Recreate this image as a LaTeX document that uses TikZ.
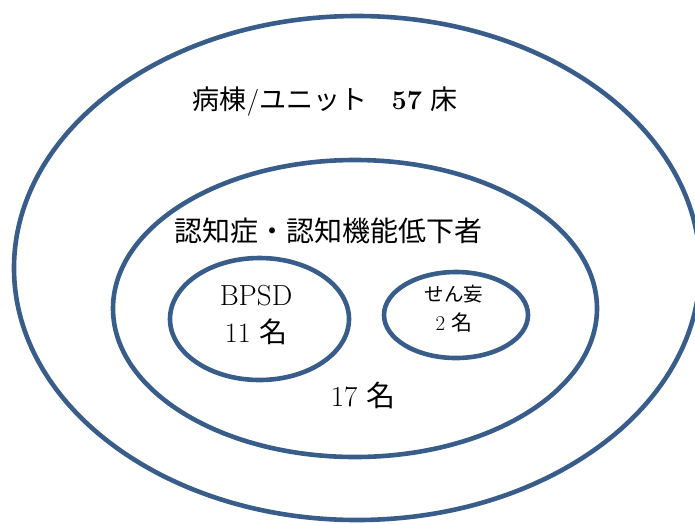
\documentclass[tikz,border=0pt]{standalone}
\usepackage{fontspec}
\usetikzlibrary{shapes.geometric}
\newfontfamily\jp{Noto Sans CJK JP}
\definecolor{ringblue}{RGB}{56,93,138}
\tikzset{
  ring/.style={draw=ringblue, line width=4.6pt, ellipse, inner sep=0pt, fill=none},
  lbl/.style={inner sep=0pt, text=black, align=center},
}
\begin{document}
\begin{tikzpicture}[x=1pt,y=-1pt]
\useasboundingbox (0,0) rectangle (695,523);
\node[ring, minimum width=686pt, minimum height=504pt] (outer) at (357,268) {};
\node[ring, minimum width=484pt, minimum height=297pt] (middle) at (355,308.5) {};
\node[ring, minimum width=179pt, minimum height=122pt] (bpsd) at (259.5,319) {};
\node[ring, minimum width=144pt, minimum height=86pt] (delir) at (456,315) {};
\node[lbl, font=\fontsize{27pt}{31pt}\selectfont] (ward) at (325,102) {{\jp 病棟}/{\jp ユニット}\hspace{0.9em}\textbf{57} {\jp 床}};
\node[lbl, font=\fontsize{28pt}{32pt}\selectfont] (dem) at (328,231) {{\jp 認知症・認知機能低下者}};
\node[lbl, font=\fontsize{29pt}{33pt}\selectfont] (bpsdt) at (256,296) {BPSD};
\node[lbl, font=\fontsize{28pt}{33pt}\selectfont] (bpsdn) at (256,332) {11 {\jp 名}};
\node[lbl, font=\fontsize{19.5pt}{23pt}\selectfont] (delirt) at (454,294) {{\jp せん妄}};
\node[lbl, font=\fontsize{21pt}{25pt}\selectfont] (delirn) at (454,322) {2 {\jp 名}};
\node[lbl, font=\fontsize{29pt}{34pt}\selectfont] (demn) at (363,395) {17 {\jp 名}};
\end{tikzpicture}
\end{document}
